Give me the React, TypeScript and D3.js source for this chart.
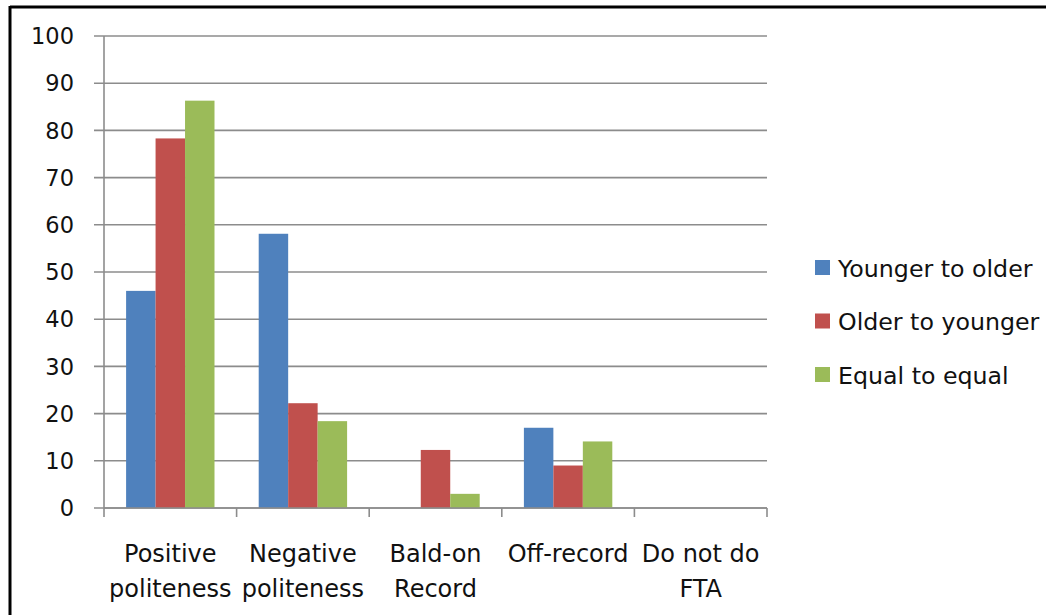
import React from "react";
import * as d3 from "d3";

const categories = [
  ["Positive", "politeness"],
  ["Negative", "politeness"],
  ["Bald-on", "Record"],
  ["Off-record"],
  ["Do not do", "FTA"],
];
const seriesNames = ["Younger to older", "Older to younger", "Equal to equal"];
const seriesColors = ["#4F81BD", "#C0504D", "#9BBB59"];
const youngerToOlder = [46, 58.1, 0, 17, 0];
const olderToYounger = [78.3, 22.2, 12.3, 9, 0];
const equalToEqual = [86.3, 18.4, 3, 14.1, 0];
const yTicks = [0, 10, 20, 30, 40, 50, 60, 70, 80, 90, 100];

const W = 1046;
const H = 615;
const FONT = "'DejaVu Sans', 'Open Sans', sans-serif";

export default function App() {
  const left = 104;
  const right = 767;
  const top = 36;
  const bottom = 508;
  const series = [youngerToOlder, olderToYounger, equalToEqual];
  const x = d3
    .scaleBand<number>()
    .domain(categories.map((_, i) => i))
    .range([left, right])
    .paddingInner(0)
    .paddingOuter(0);
  const y = d3.scaleLinear().domain([0, 100]).range([bottom, top]);
  const bw = x.bandwidth();
  const barW = bw / 4.5;
  const groupOff = (bw - barW * 3) / 2;
  const grid = "#8c8c8c";

  return (
    <svg
      width={W}
      height={H}
      style={{ position: "absolute", left: 0, top: 0, background: "#fff" }}
      fontFamily={FONT}
    >
      <rect x={0} y={0} width={W} height={H} fill="#fff" />
      {/* frame */}
      <line x1={10} y1={7} x2={W} y2={7} stroke="#000" strokeWidth={3} />
      <line x1={10} y1={6} x2={10} y2={H} stroke="#000" strokeWidth={3} />
      {/* gridlines and y ticks */}
      {yTicks.map((t) => (
        <g key={t}>
          <line x1={94} x2={right} y1={y(t)} y2={y(t)} stroke={grid} strokeWidth={1.6} />
          <text
            x={74}
            y={y(t)}
            dy="0.36em"
            textAnchor="end"
            fontSize={22.5}
            fill="#111"
          >
            {t}
          </text>
        </g>
      ))}
      {/* bars */}
      {series.map((vals, si) =>
        vals.map((v, ci) =>
          v > 0 ? (
            <rect
              key={`${si}-${ci}`}
              x={(x(ci) as number) + groupOff + si * barW}
              y={y(v)}
              width={barW}
              height={y(0) - y(v)}
              fill={seriesColors[si]}
            />
          ) : null
        )
      )}
      {/* y axis */}
      <line x1={left} x2={left} y1={top} y2={bottom} stroke={grid} strokeWidth={1.6} />
      {/* x axis */}
      <line x1={left} x2={right} y1={bottom} y2={bottom} stroke={grid} strokeWidth={1.6} />
      {categories.map((_, i) => (
        <line
          key={i}
          x1={x(i) as number}
          x2={x(i) as number}
          y1={bottom}
          y2={bottom + 9}
          stroke={grid}
          strokeWidth={1.6}
        />
      ))}
      <line x1={right} x2={right} y1={bottom} y2={bottom + 9} stroke={grid} strokeWidth={1.6} />
      {/* category labels */}
      {categories.map((lines, i) => (
        <text
          key={i}
          x={(x(i) as number) + bw / 2}
          textAnchor="middle"
          fontSize={24}
          fill="#111"
        >
          {lines.map((l, li) => (
            <tspan key={li} x={(x(i) as number) + bw / 2} y={562 + li * 35}>
              {l}
            </tspan>
          ))}
        </text>
      ))}
      {/* legend */}
      {seriesNames.map((n, i) => (
        <g key={n} transform={`translate(815, ${268 + i * 53.5})`}>
          <rect x={0} y={-8} width={15} height={15} fill={seriesColors[i]} />
          <text x={23} y={0} dy="0.36em" fontSize={23.7} fill="#111">
            {n}
          </text>
        </g>
      ))}
    </svg>
  );
}
